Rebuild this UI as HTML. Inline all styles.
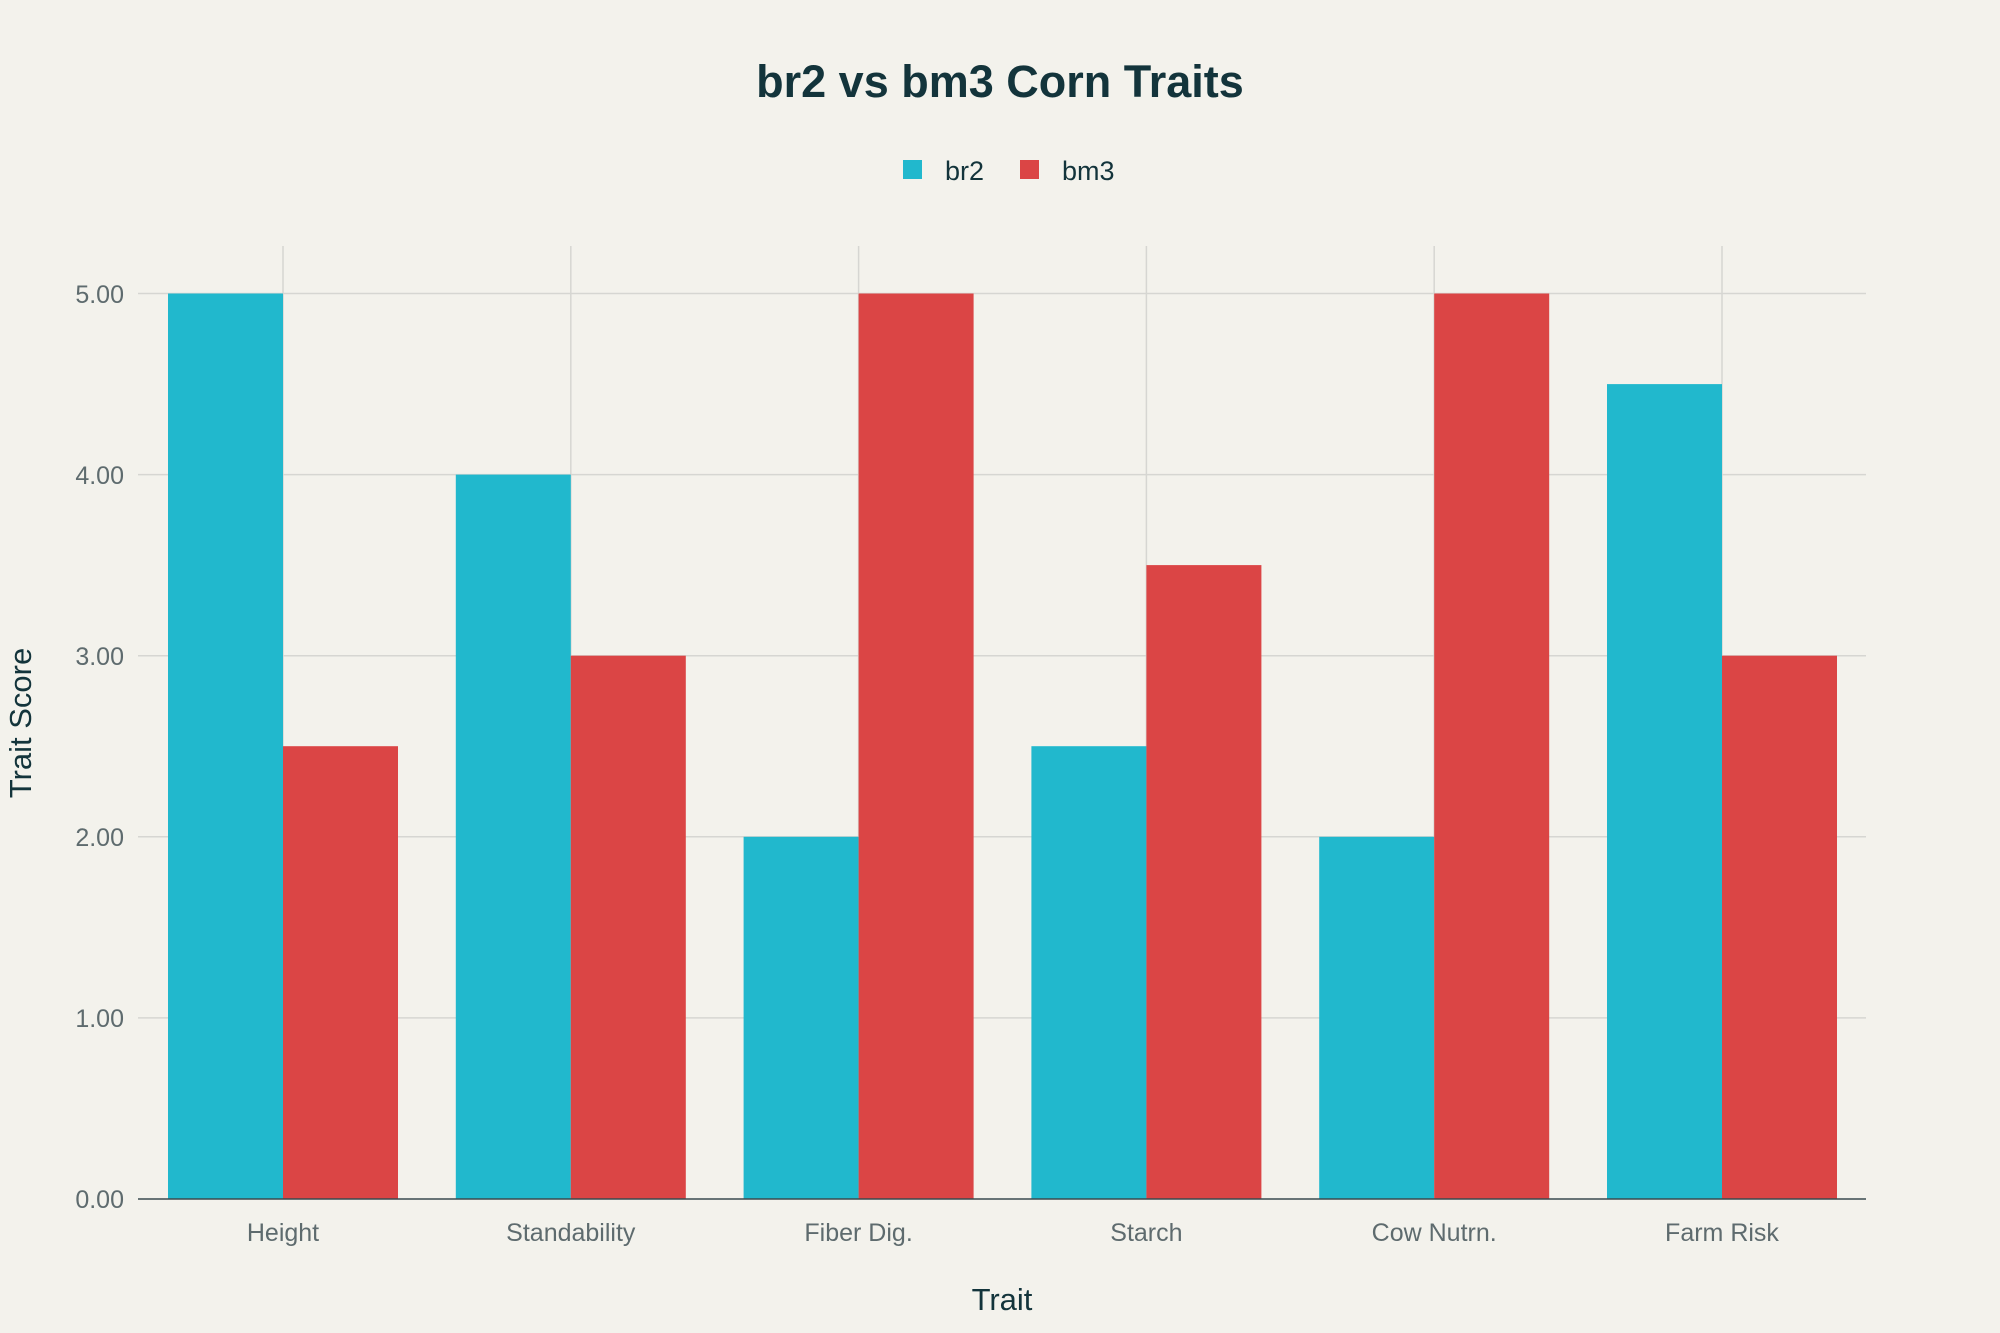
<!DOCTYPE html>
<html><head><meta charset="utf-8"><style>
html,body{margin:0;padding:0;background:#F3F2EC;}
svg{display:block;font-family:"Liberation Sans",sans-serif;}
</style></head><body>
<svg width="2000" height="1333" viewBox="0 0 2000 1333">
<rect width="2000" height="1333" fill="#F3F2EC"/>
<g stroke="#D6D6D2" stroke-width="1.5">
<line x1="138" x2="1866" y1="1017.9" y2="1017.9"/>
<line x1="138" x2="1866" y1="836.8" y2="836.8"/>
<line x1="138" x2="1866" y1="655.7" y2="655.7"/>
<line x1="138" x2="1866" y1="474.6" y2="474.6"/>
<line x1="138" x2="1866" y1="293.5" y2="293.5"/>
<line x1="283" x2="283" y1="246" y2="1199"/>
<line x1="570.8" x2="570.8" y1="246" y2="1199"/>
<line x1="858.6" x2="858.6" y1="246" y2="1199"/>
<line x1="1146.4" x2="1146.4" y1="246" y2="1199"/>
<line x1="1434.2" x2="1434.2" y1="246" y2="1199"/>
<line x1="1722" x2="1722" y1="246" y2="1199"/>
</g>
<g fill="#21B8CD">
<rect x="168" y="293.5" width="115" height="905.5"/>
<rect x="455.8" y="474.6" width="115" height="724.4"/>
<rect x="743.6" y="836.8" width="115" height="362.2"/>
<rect x="1031.4" y="746.2" width="115" height="452.8"/>
<rect x="1319.2" y="836.8" width="115" height="362.2"/>
<rect x="1607" y="384.1" width="115" height="814.9"/>
</g>
<g fill="#DB4545">
<rect x="283" y="746.2" width="115" height="452.8"/>
<rect x="570.8" y="655.7" width="115" height="543.3"/>
<rect x="858.6" y="293.5" width="115" height="905.5"/>
<rect x="1146.4" y="565.1" width="115" height="633.9"/>
<rect x="1434.2" y="293.5" width="115" height="905.5"/>
<rect x="1722" y="655.7" width="115" height="543.3"/>
</g>
<line x1="138" x2="1866" y1="1199" y2="1199" stroke="#3A4A4E" stroke-width="1.5"/>
<g fill="#5E6B6E" font-size="25" text-anchor="end">
<text x="124" y="1208">0.00</text>
<text x="124" y="1027">1.00</text>
<text x="124" y="846">2.00</text>
<text x="124" y="665">3.00</text>
<text x="124" y="484">4.00</text>
<text x="124" y="303">5.00</text>
</g>
<g fill="#5E6B6E" font-size="25" text-anchor="middle">
<text x="283" y="1241">Height</text>
<text x="570.8" y="1241">Standability</text>
<text x="858.6" y="1241">Fiber Dig.</text>
<text x="1146.4" y="1241">Starch</text>
<text x="1434.2" y="1241">Cow Nutrn.</text>
<text x="1722" y="1241">Farm Risk</text>
</g>
<text x="1002" y="1310" text-anchor="middle" font-size="31" fill="#13343B">Trait</text>
<text transform="translate(31,723) rotate(-90)" text-anchor="middle" font-size="31" fill="#13343B">Trait Score</text>
<text x="1000" y="97" text-anchor="middle" font-size="45" font-weight="bold" fill="#13343B">br2 vs bm3 Corn Traits</text>
<rect x="903" y="160" width="19" height="19" fill="#21B8CD"/>
<text x="945" y="180" font-size="27" fill="#13343B">br2</text>
<rect x="1020" y="160" width="19" height="19" fill="#DB4545"/>
<text x="1062" y="180" font-size="27" fill="#13343B">bm3</text>
</svg>
</body></html>
